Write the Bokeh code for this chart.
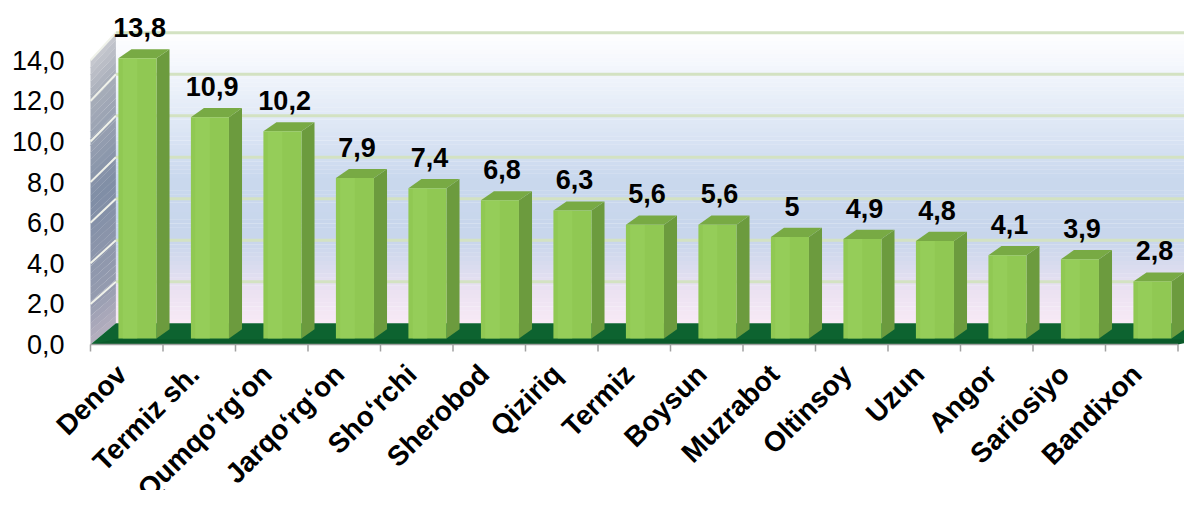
import numpy as np
from bokeh.plotting import figure
from bokeh.models import Range1d
from bokeh.core.properties import value
from bokeh.embed import file_html
from bokeh.resources import INLINE

# ---- data ----
categories = ["Denov", "Termiz sh.", "Qumqo\u2018rg\u2018on", "Jarqo\u2018rg\u2018on", "Sho\u2018rchi",
              "Sherobod", "Qiziriq", "Termiz", "Boysun", "Muzrabot", "Oltinsoy", "Uzun",
              "Angor", "Sariosiyo", "Bandixon"]
values = [13.8, 10.9, 10.2, 7.9, 7.4, 6.8, 6.3, 5.6, 5.6, 5.0, 4.9, 4.8, 4.1, 3.9, 2.8]
value_labels = ["13,8", "10,9", "10,2", "7,9", "7,4", "6,8", "6,3", "5,6", "5,6", "5",
                "4,9", "4,8", "4,1", "3,9", "2,8"]
y_ticks = [0, 2, 4, 6, 8, 10, 12, 14]
y_tick_labels = ["0,0", "2,0", "4,0", "6,0", "8,0", "10,0", "12,0", "14,0"]

# ---- geometry (pseudo 3D) ----
W, H = 1184, 490
X0_PX = 90                # px of category axis start (left wall front edge)
ZERO_PX = 344             # px of value 0 (floor front edge)
PX_X = 72.5               # px per category slot
PX_Y = 20.3               # px per value unit
n = len(categories)
ymax = max(y_ticks)
DX, DY = 0.35, 1.05       # wall depth offset (data units)
SCALE_BACK = 1.022        # back wall scale
BX, BY = 0.18, 0.45       # bar depth offset
BASE = 0.3                # bar base above floor front edge
F0, F1 = 0.385, 0.91      # bar front face within slot

def back_y(v):
    return DY + SCALE_BACK * v

FONT = "Liberation Sans"

p = figure(width=W, height=H, output_backend="svg", toolbar_location=None,
           x_range=Range1d(-X0_PX / PX_X, (W - X0_PX) / PX_X),
           y_range=Range1d(-(H - ZERO_PX) / PX_Y, ZERO_PX / PX_Y),
           min_border_left=0, min_border_right=0, min_border_top=0, min_border_bottom=0)
p.outline_line_color = None
p.grid.visible = False
p.xaxis.visible = False
p.yaxis.visible = False
p.background_fill_color = "white"
p.border_fill_color = "white"

# back wall gradient (strips)
stops_v = [0.0, 1.5, 4.0, 7.0, 10.0, 12.5, 14.0]
stops_c = [(248, 234, 246), (236, 226, 242), (200, 214, 236), (202, 217, 238),
           (226, 234, 247), (245, 248, 253), (255, 255, 255)]
nstrip = 70
edges = np.linspace(0, ymax, nstrip + 1)
bottoms, tops, cols = [], [], []
for a, b in zip(edges[:-1], edges[1:]):
    m = (a + b) / 2
    c = [int(np.interp(m, stops_v, [s[k] for s in stops_c])) for k in range(3)]
    bottoms.append(back_y(a)); tops.append(back_y(b) + 0.01)
    cols.append("#%02x%02x%02x" % tuple(c))
p.quad(left=DX, right=DX + n + 0.5, bottom=bottoms, top=tops, fill_color=cols, line_color=None)

# left wall gradient
lstops_v = [0.0, 2.0, 7.0, 12.0, 14.0]
lstops_c = [(182, 176, 192), (150, 156, 176), (128, 142, 166), (168, 174, 186), (200, 202, 208)]
lxs, lys, lcols = [], [], []
ledges = np.linspace(0, ymax, 41)
for a, b in zip(ledges[:-1], ledges[1:]):
    m = (a + b) / 2
    c = [int(np.interp(m, lstops_v, [s[k] for s in lstops_c])) for k in range(3)]
    lxs.append([0, DX, DX, 0]); lys.append([a, back_y(a), back_y(b) + 0.01, b + 0.01])
    lcols.append("#%02x%02x%02x" % tuple(c))
p.patches(lxs, lys, fill_color=lcols, line_color=None)

# gridlines: back wall and left wall
for t in y_ticks[1:]:
    p.line([DX, DX + n + 0.5], [back_y(t), back_y(t)], line_color="#d3e2c2", line_width=3)
    p.line([0, DX], [t, back_y(t)], line_color="#f0f2ea", line_width=2)

# floor
p.patch([0, n, n + DX, DX], [0, 0, DY, DY], fill_color="#0d6330", line_color=None)
p.patch([0, n, n + DX, DX], [0, 0, DY * 0.25, DY * 0.25], fill_color="#0a5a2a", line_color=None)

# category axis line + tick marks
TICK = 7 / PX_Y
p.line([0, n], [0, 0], line_color="#a0a0a0", line_width=1.5)
p.segment(x0=list(range(n + 1)), y0=[0] * (n + 1), x1=list(range(n + 1)), y1=[-TICK] * (n + 1),
          line_color="#a0a0a0", line_width=1.5)

# bars
fx, fy, sx, sy, tx, ty = [], [], [], [], [], []
for i, v in enumerate(values):
    x0, x1 = i + F0, i + F1
    y0, y1 = BASE, v + BASE
    fx.append([x0, x1, x1, x0]); fy.append([y0, y0, y1, y1])
    sx.append([x1, x1 + BX, x1 + BX, x1]); sy.append([y0, y0 + BY, y1 + BY, y1])
    tx.append([x0, x1, x1 + BX, x0 + BX]); ty.append([y1, y1, y1 + BY, y1 + BY])
p.patches(sx, sy, fill_color="#6c9b3e", line_color=None)
p.patches(tx, ty, fill_color="#78aa44", line_color=None)
p.patches(fx, fy, fill_color="#90c853", line_color=None)
hx = [[i + F0 + 0.06, i + F0 + 0.26, i + F0 + 0.26, i + F0 + 0.06] for i in range(n)]
hy = [[BASE, BASE, v + BASE, v + BASE] for v in values]
p.patches(hx, hy, fill_color="#9ad15e", fill_alpha=0.6, line_color=None)

# value labels
lx = [i + (F0 + F1) / 2 + 0.03 for i in range(n)]
ly = [v + BASE + BY + 0.6 for v in values]
p.text(x=lx, y=ly, text=value_labels, text_align="center", text_baseline="bottom",
       text_font=value(FONT), text_font_style="bold", text_font_size="27px", text_color="black")

# category labels (rotated 45 degrees, end anchored under each slot)
cx = [i + 0.28 for i in range(n)]
cy = [-14 / PX_Y] * n
p.text(x=cx, y=cy, text=categories, angle=np.pi / 4, text_align="right", text_baseline="top",
       text_font=value(FONT), text_font_style="bold", text_font_size="28px", text_color="black")

# value axis labels
p.text(x=[(64 - X0_PX) / PX_X] * len(y_ticks), y=y_ticks, text=y_tick_labels,
       text_align="right", text_baseline="middle",
       text_font=value(FONT), text_font_size="27px", text_color="black")

open("out.html", "w").write(file_html(p, INLINE))
